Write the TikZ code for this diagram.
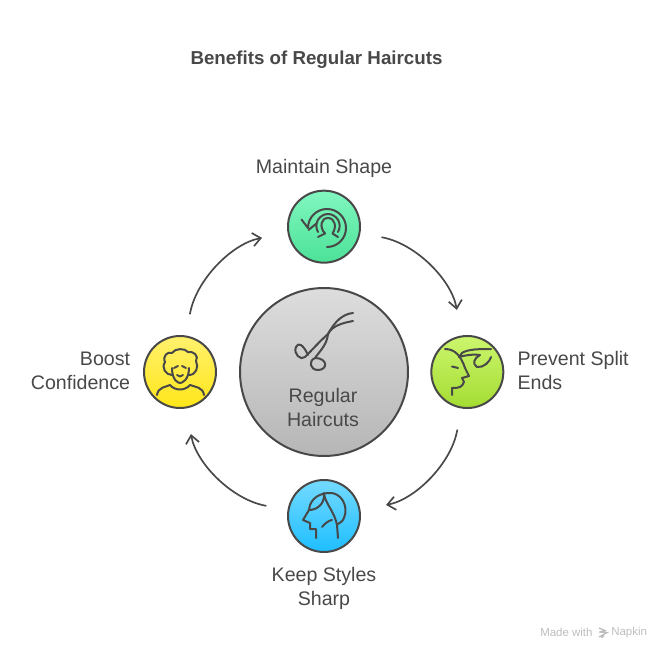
\documentclass[tikz,border=0pt]{standalone}
\usepackage{fontspec}
\setmainfont{Liberation Sans}
\usepackage{tikz}
\usetikzlibrary{arrows.meta,positioning}

\definecolor{ink}{HTML}{484848}
\definecolor{footgrey}{HTML}{BDBDBD}
\definecolor{hubtop}{HTML}{DDDDDD}
\definecolor{hubbot}{HTML}{B6B6B6}
\definecolor{shapetop}{HTML}{82F7C0}
\definecolor{shapebot}{HTML}{4CE298}
\definecolor{splittop}{HTML}{CCF66E}
\definecolor{splitbot}{HTML}{A4DC32}
\definecolor{sharptop}{HTML}{74DAFF}
\definecolor{sharpbot}{HTML}{1EBEFF}
\definecolor{boosttop}{HTML}{FFF16E}
\definecolor{boostbot}{HTML}{FFE618}

\begin{document}
\begin{tikzpicture}[x=.75pt,y=-.75pt,>={Straight Barb[length=6pt,width=10pt]},
                    hub/.style={circle,draw=ink,line width=1.5pt,minimum size=126pt,inner sep=0pt,
                                top color=hubtop,bottom color=hubbot},
                    badge/.style={circle,draw=ink,line width=1.5pt,minimum size=54pt,inner sep=0pt},
                    caption/.style={text=ink,font=\fontsize{14.7}{18}\selectfont,inner sep=0pt},
                    flow/.style={->,draw=ink,line width=1.25pt,line cap=round,shorten >=19.5pt,shorten <=16.5pt},
                    glyph/.style={draw=ink,line width=1.5pt,line cap=round,line join=round}]
    \useasboundingbox (0,0) rectangle (672,660);

    \node[text=ink,font=\fontsize{14.05}{18}\selectfont\bfseries,inner sep=0pt] (title) at (316.5,59.5) {Benefits of Regular Haircuts};

    \node[hub] (hub) at (324,372) {};
    \node[badge,top color=shapetop,bottom color=shapebot,above=17.5pt of hub] (shape) {};
    \node[badge,top color=splittop,bottom color=splitbot,right=16pt of hub] (split) {};
    \node[badge,top color=sharptop,bottom color=sharpbot,below=16.5pt of hub] (sharp) {};
    \node[badge,top color=boosttop,bottom color=boostbot,left=16.5pt of hub] (boost) {};

    \node[caption,above=9pt of shape] (shapetext) {Maintain Shape};
    \node[caption,align=left,right=9.75pt of split,yshift=1.2pt] (splittext) {Prevent Split\\Ends};
    \node[caption,align=center,below=10.5pt of sharp] (sharptext) {Keep Styles\\Sharp};
    \node[caption,align=right,left=9.5pt of boost,yshift=.7pt] (boosttext) {Boost\\Confidence};
    \node[caption,align=center] (hubtext) at (323,407) {Regular\\Haircuts};

    \path[flow] (shape) edge[bend left=35] (split)
                (split) edge[bend left=35] (sharp)
                (sharp) edge[bend left=35] (boost)
                (boost) edge[bend left=35] (shape);

    % scissors
    \draw[glyph] (308,355) .. controls (303,344) and (298,342) .. (296,347)
                 .. controls (293,354) and (301,361) .. (305,357)
                 .. controls (312,350) and (320,341) .. (328,334)
                 .. controls (335,321) and (343,314) .. (353,313);
    \draw[glyph] (328,334) .. controls (327,345) and (319,352) .. (315,358)
                 .. controls (328,358) and (328,370) .. (318,370)
                 .. controls (310,370) and (308,361) .. (315,358);
    \draw[glyph] (328,334) .. controls (332,326) and (342,323) .. (353,321);

    % rotating head
    \draw[glyph] (327,247) arc (90:-180:19) -- +(-6.5,-8.5);
    \draw[glyph] (308.5,230) -- (316.5,223.5);
    \draw[glyph] (318,237) -- (325,233.5) .. controls (319,227) and (321,218) .. (328,218)
                 .. controls (335,218) and (337,227) .. (332.5,233.5) -- (338,237);
    \draw[glyph] (318,232) .. controls (313,223) and (320,214) .. (328,214)
                 .. controls (336,214) and (343,223) .. (338,232);

    % face with split hair
    \draw[glyph] (445,349) .. controls (455,349) and (461,356) .. (465,368) -- (469,376) -- (462,378)
                 -- (464,382) .. controls (462,387) and (460,388) .. (452,388) -- (452,395);
    \draw[glyph] (452,366.5) -- (458,368);
    \draw[glyph] (491,349) .. controls (480,349) and (468,349) .. (462,353) -- (459,357)
                 .. controls (466,355) and (475,354) .. (480,355)
                 .. controls (474,358) and (472,364) .. (477,367)
                 .. controls (483,368) and (490,362) .. (491,357);

    % side view head
    \draw[glyph] (316,538) -- (316,529) -- (310,529) -- (310,523) -- (303,520) -- (309,510)
                 .. controls (310,497) and (322,493) .. (329,493)
                 .. controls (341,492) and (349,506) .. (344,518)
                 .. controls (343,522) and (337,524) .. (337,525) -- (338,538);
    \draw[glyph] (309,510) .. controls (316,510) and (325,505) .. (324,493)
                 .. controls (325,504) and (334,510) .. (337,525);
    \draw[glyph] (322,527) .. controls (325,523) and (330,520) .. (332,520);

    % curly boy
    \draw[glyph] (172,375) .. controls (166,375) and (161,368) .. (165,362)
                 .. controls (162,356) and (168,351) .. (172,353)
                 .. controls (175,348) and (185,348) .. (188,352)
                 .. controls (194,351) and (199,356) .. (196,361)
                 .. controls (199,367) and (196,375) .. (189,375);
    \draw[glyph] (172,368) .. controls (172,380) and (178,383) .. (180,383)
                 .. controls (182,383) and (189,380) .. (189,368);
    \draw[glyph] (174,368) -- (178,366);
    \draw[glyph] (186,368) -- (182,366);
    \draw[glyph] (177,375) .. controls (179,377) and (181,377) .. (183,375);
    \draw[glyph] (157,395) .. controls (158,387) and (166,387) .. (170,385)
                 .. controls (175,391) and (185,391) .. (190,385)
                 .. controls (195,387) and (203,387) .. (204,395);

    % footer
    \node[text=footgrey,font=\fontsize{8.6}{10}\selectfont,inner sep=0pt,anchor=west] (made) at (540,632.5) {Made with};
    \draw[footgrey,line width=1pt] (599,628) -- (605,630.5) -- (600,632)
                 (599,632) -- (607,632.5) -- (599,637)
                 (601,637.5) -- (604,636);
    \node[text=footgrey,font=\fontsize{8.6}{10}\selectfont,inner sep=0pt,anchor=west] (napkin) at (611,632.5) {Napkin};
\end{tikzpicture}
\end{document}
